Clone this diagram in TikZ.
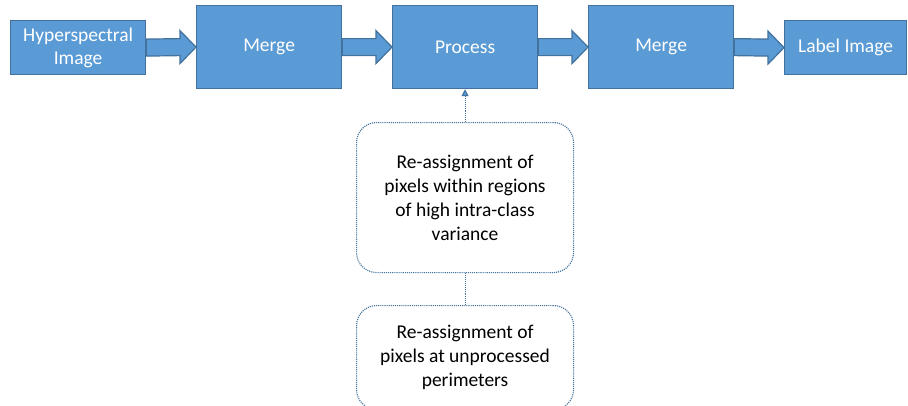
\documentclass[tikz,border=0pt]{standalone}
\usepackage{fontspec}
\setmainfont{Carlito}
\usetikzlibrary{calc,arrows.meta}
\definecolor{boxfill}{HTML}{5B9BD5}
\definecolor{boxline}{HTML}{41719C}
\tikzset{
  x=1pt, y=-1pt,
  flowbox/.style={draw=boxline, fill=boxfill, line width=1.2pt, text=white,
    align=center, inner sep=0pt, anchor=north west,
    font=\fontsize{19.5}{23}\selectfont},
  notebox/.style={draw=boxline, densely dotted, line width=1.1pt, rounded corners=20pt,
    align=center, inner sep=0pt, anchor=north west, text=black,
    font=\fontsize{19.5}{24}\selectfont},
  blockarrow/.style={draw=boxline, fill=boxfill, line width=1.2pt, line join=miter},
  noteline/.style={draw=boxline, densely dotted, line width=1.1pt}
}
% wide block arrow from the east side of #1 to the west side of #2
\newcommand{\blockarr}[2]{%
  \path[blockarrow] ($(#1.east)+(0,-8.5)$) -- ($(#2.west)+(-16,-8.5)$)
    -- ($(#2.west)+(-16,-16.5)$) -- (#2.west) -- ($(#2.west)+(-16,16.5)$)
    -- ($(#2.west)+(-16,8.5)$) -- ($(#1.east)+(0,8.5)$) -- cycle;}
\begin{document}
\begin{tikzpicture}
\useasboundingbox (0,0) rectangle (908,405);
\clip (0,0) rectangle (908,405);
\node[flowbox, minimum width=135pt, minimum height=54pt] (hsi) at (10,20) {Hyperspectral\\Image};
\node[flowbox, minimum width=145pt, minimum height=83pt] (m1) at (196,5) {\raisebox{-2pt}{Merge}};
\node[flowbox, minimum width=145pt, minimum height=83pt] (proc) at (392,5) {\raisebox{-2pt}{Process}};
\node[flowbox, minimum width=145pt, minimum height=83pt] (m2) at (588,5) {\raisebox{-2pt}{Merge}};
\node[flowbox, minimum width=122pt, minimum height=54pt] (lab) at (784,20) {\raisebox{-2pt}{Label Image}};
\blockarr{hsi}{m1}
\blockarr{m1}{proc}
\blockarr{proc}{m2}
\blockarr{m2}{lab}
\node[notebox, minimum width=217pt, minimum height=150pt] (n1) at (356,122)
  {Re-assignment of\\pixels within regions\\of high intra-class\\variance};
\node[notebox, minimum width=217pt, minimum height=104pt] (n2) at (356,305)
  {Re-assignment of\\pixels at unprocessed\\perimeters};
\draw[noteline, -{Triangle[width=7pt,length=7pt,fill=boxfill]}] (n1.north) -- (n1.north |- proc.south);
\draw[noteline] (n2.north) -- (n1.south);
\end{tikzpicture}
\end{document}
